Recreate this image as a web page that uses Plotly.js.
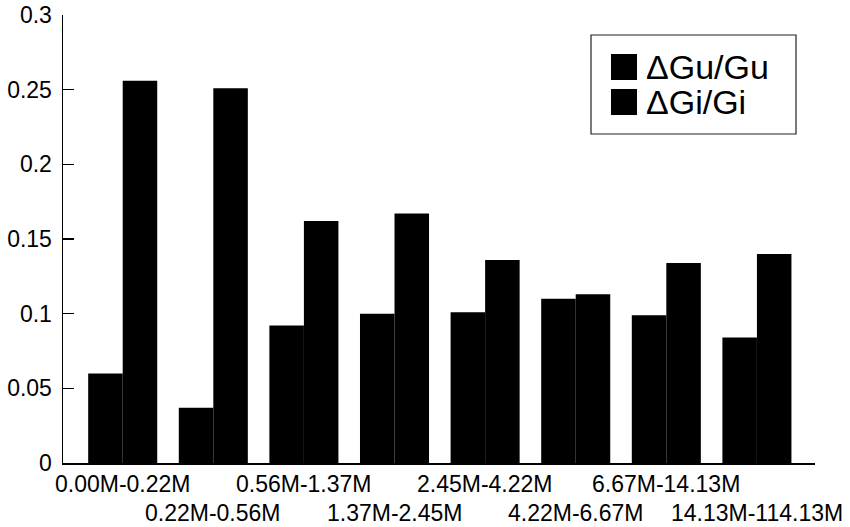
<!DOCTYPE html>
<html>
<head>
<meta charset="utf-8">
<script src="https://cdn.plot.ly/plotly-3.0.1.min.js"></script>
<style>
  html, body { margin: 0; padding: 0; background: #fff; }
  #chart { width: 850px; height: 527px; }
</style>
</head>
<body>
<div id="chart"></div>
<script>
// Size intervals (in millions)
const categories = [
  '0.00M-0.22M', '0.22M-0.56M', '0.56M-1.37M', '1.37M-2.45M',
  '2.45M-4.22M', '4.22M-6.67M', '6.67M-14.13M', '14.13M-114.13M'
];
// Relative changes per interval
const dGuGu = [0.060, 0.037, 0.092, 0.100, 0.101, 0.110, 0.099, 0.084];
const dGiGi = [0.256, 0.251, 0.162, 0.167, 0.136, 0.113, 0.134, 0.140];
const seriesNames = ['\u0394Gu/Gu', '\u0394Gi/Gi'];
const yTicks = [0, 0.05, 0.1, 0.15, 0.2, 0.25, 0.3];

const W = 850, H = 527;
const M = { l: 63, r: 35, t: 15, b: 64 };
const plotW = W - M.l - M.r, plotH = H - M.t - M.b;
const px = x => (x - M.l) / plotW;          // pixel -> paper x
const py = y => (H - M.b - y) / plotH;      // pixel -> paper y

const FONT = '"Liberation Sans", Arial, Helvetica, sans-serif';
const idx = categories.map((_, i) => i);

const traces = [
  { type: 'bar', name: seriesNames[0], x: idx, y: dGuGu,
    marker: { color: '#000', line: { width: 0 } }, showlegend: false },
  { type: 'bar', name: seriesNames[1], x: idx, y: dGiGi,
    marker: { color: '#000', line: { width: 0 } }, showlegend: false }
];

// Staggered category labels below the axis
const labelAnns = categories.map((c, i) => ({
  text: c, x: i, xref: 'x', y: 0, yref: 'paper',
  yanchor: 'middle', xanchor: 'center', showarrow: false,
  yshift: i % 2 === 0 ? -21 : -50,
  font: { family: FONT, size: 23, color: '#000' }
}));

// Legend: framed box with two black swatches and labels
const legendShapes = [
  { type: 'rect', xref: 'paper', yref: 'paper',
    x0: px(591), x1: px(796), y0: py(134), y1: py(35),
    line: { color: '#222', width: 1.2 }, fillcolor: '#fff' },
  { type: 'rect', xref: 'paper', yref: 'paper',
    x0: px(611), x1: px(637), y0: py(80), y1: py(54),
    line: { width: 0 }, fillcolor: '#000' },
  { type: 'rect', xref: 'paper', yref: 'paper',
    x0: px(611), x1: px(637), y0: py(115), y1: py(89),
    line: { width: 0 }, fillcolor: '#000' }
];
const legendAnns = seriesNames.map((n, i) => ({
  text: n, xref: 'paper', yref: 'paper',
  x: px(644), y: py(i === 0 ? 67 : 102),
  xanchor: 'left', yanchor: 'middle', showarrow: false,
  font: { family: FONT, size: 34, color: '#000' }
}));

const layout = {
  width: W, height: H,
  margin: M,
  paper_bgcolor: '#fff', plot_bgcolor: '#fff',
  barmode: 'group', bargap: 0.238, bargroupgap: 0,
  font: { family: FONT, color: '#000' },
  xaxis: {
    range: [-0.659, 7.641], showticklabels: false, ticks: '',
    showgrid: false, zeroline: false,
    showline: true, linecolor: '#000', linewidth: 1.5
  },
  yaxis: {
    range: [0, 0.3], tickmode: 'array', tickvals: yTicks,
    ticks: 'inside', ticklen: 11, tickwidth: 1.5, tickcolor: '#000',
    showgrid: false, zeroline: false,
    showline: true, linecolor: '#000', linewidth: 1.5,
    ticklabelstandoff: 5,
    tickfont: { family: FONT, size: 23, color: '#000' }
  },
  shapes: legendShapes,
  annotations: labelAnns.concat(legendAnns)
};

Plotly.newPlot('chart', traces, layout, { displayModeBar: false, staticPlot: true });
</script>
</body>
</html>
